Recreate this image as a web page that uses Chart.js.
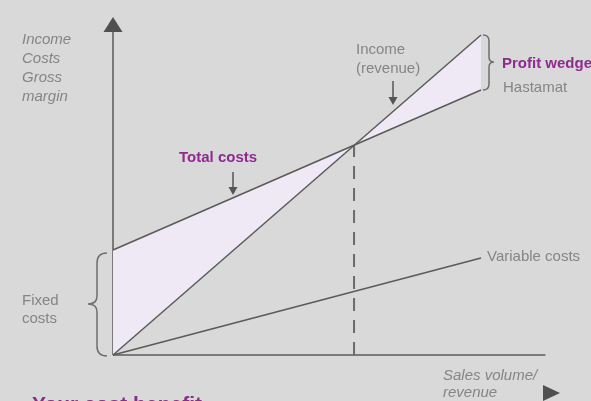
<!DOCTYPE html>
<html>
<head>
<meta charset="utf-8">
<script src="https://cdn.jsdelivr.net/npm/chart.js@4/dist/chart.umd.min.js"></script>
<style>
  html, body { margin: 0; padding: 0; background: #d9d9d9; overflow: hidden; }
  canvas { display: block; }
</style>
</head>
<body>
<canvas id="c" width="591" height="401"></canvas>
<script>
// ---- Data ----
const volume        = [0, 10];        // sales volume (x)
const income        = [0, 100];       // income (revenue)
const totalCosts    = [32.8, 82.8];   // total costs
const variableCosts = [0, 30.3];      // variable costs
const breakEvenVolume = 6.55;
const breakEvenValue  = 65.5;
const xAxisEnd = 11.75;
const yAxisEnd = 101.5;

const LINE = '#5a5a5a';
const AXIS = '#7a7a7a';
const FILL = '#efe9f5';
const GREY_TEXT = '#858585';
const PURPLE = '#8e2b8e';
const FONT = '"Liberation Sans", Arial, Helvetica, sans-serif';

const pts = (ys) => volume.map((v, i) => ({ x: v, y: ys[i] }));

const annotations = {
  id: 'annotations',
  afterDraw(chart) {
    const ctx = chart.ctx;
    const xs = chart.scales.x;
    const X = v => xs.getPixelForValue(v);
    ctx.save();

    // axis arrowheads
    ctx.fillStyle = '#505050';
    const ox = X(0);
    ctx.beginPath();
    ctx.moveTo(ox, 17); ctx.lineTo(ox - 9.5, 32); ctx.lineTo(ox + 9.5, 32); ctx.closePath(); ctx.fill();
    ctx.beginPath();
    ctx.moveTo(560, 393); ctx.lineTo(543, 385); ctx.lineTo(543, 401); ctx.closePath(); ctx.fill();

    // small down arrows
    function downArrow(x, y1, y2) {
      ctx.strokeStyle = '#555'; ctx.lineWidth = 1.5;
      ctx.beginPath(); ctx.moveTo(x, y1); ctx.lineTo(x, y2 - 6); ctx.stroke();
      ctx.fillStyle = '#555';
      ctx.beginPath(); ctx.moveTo(x, y2); ctx.lineTo(x - 4.5, y2 - 8); ctx.lineTo(x + 4.5, y2 - 8); ctx.closePath(); ctx.fill();
    }
    downArrow(393, 81, 105);
    downArrow(233, 172, 195);

    // braces
    ctx.strokeStyle = '#6e6e6e'; ctx.lineWidth = 1.5;
    // left brace (fixed costs)
    (function () {
      const top = 253, bot = 356, mid = 304, xr = 107, xm = 97, xp = 88;
      ctx.beginPath();
      ctx.moveTo(xr, top);
      ctx.quadraticCurveTo(xm, top, xm, top + 10);
      ctx.lineTo(xm, mid - 8);
      ctx.quadraticCurveTo(xm, mid, xp, mid);
      ctx.quadraticCurveTo(xm, mid, xm, mid + 8);
      ctx.lineTo(xm, bot - 10);
      ctx.quadraticCurveTo(xm, bot, xr, bot);
      ctx.stroke();
    })();
    // right brace (profit wedge)
    (function () {
      const top = 35, bot = 90, mid = 62, xl = 483, xm = 489, xp = 494;
      ctx.beginPath();
      ctx.moveTo(xl, top);
      ctx.quadraticCurveTo(xm, top, xm, top + 6);
      ctx.lineTo(xm, mid - 5);
      ctx.quadraticCurveTo(xm, mid, xp, mid);
      ctx.quadraticCurveTo(xm, mid, xm, mid + 5);
      ctx.lineTo(xm, bot - 6);
      ctx.quadraticCurveTo(xm, bot, xl, bot);
      ctx.stroke();
    })();

    // texts
    ctx.textAlign = 'left'; ctx.textBaseline = 'alphabetic';
    ctx.fillStyle = GREY_TEXT;
    ctx.font = 'italic 15px ' + FONT;
    ['Income', 'Costs', 'Gross', 'margin'].forEach((t, i) => ctx.fillText(t, 22, 44 + i * 19));
    ctx.fillText('Sales volume/', 443, 380);
    ctx.fillText('revenue', 443, 397);

    ctx.font = '15px ' + FONT;
    ctx.fillText('Income', 356, 54);
    ctx.fillText('(revenue)', 356, 73);
    ctx.fillText('Hastamat', 503, 92);
    ctx.fillText('Variable costs', 487, 261);
    ctx.fillText('Fixed', 22, 305);
    ctx.fillText('costs', 22, 323);

    ctx.fillStyle = PURPLE;
    ctx.font = 'bold 15px ' + FONT;
    ctx.fillText('Profit wedge', 502, 68);
    ctx.fillText('Total costs', 179, 162);
    ctx.font = 'bold 21px ' + FONT;
    ctx.fillText('Your cost benefit', 32, 411);

    ctx.restore();
  }
};

new Chart(document.getElementById('c'), {
  type: 'line',
  data: {
    datasets: [
      { label: 'Income', data: pts(income), borderColor: LINE, borderWidth: 1.5, fill: false },
      { label: 'Total costs', data: pts(totalCosts), borderColor: LINE, borderWidth: 1.5,
        fill: { target: 0, above: FILL, below: FILL } },
      { label: 'Variable costs', data: pts(variableCosts), borderColor: LINE, borderWidth: 1.5, fill: false },
      { label: 'Break-even', data: [{ x: breakEvenVolume, y: 0 }, { x: breakEvenVolume, y: breakEvenValue }],
        borderColor: '#6b6b6b', borderWidth: 2, borderDash: [13, 9], fill: false },
      { label: 'x axis', data: [{ x: 0, y: 0 }, { x: xAxisEnd, y: 0 }], borderColor: AXIS, borderWidth: 2, fill: false },
      { label: 'y axis', data: [{ x: 0, y: 0 }, { x: 0, y: yAxisEnd }], borderColor: AXIS, borderWidth: 2, fill: false }
    ]
  },
  options: {
    responsive: false,
    animation: false,
    events: [],
    layout: { padding: { left: 113, right: 36.4, top: 19, bottom: 46 } },
    elements: { point: { radius: 0 }, line: { tension: 0 } },
    datasets: { line: { clip: false } },
    scales: {
      x: { type: 'linear', min: 0, max: 12, display: false },
      y: { type: 'linear', min: 0, max: 105, display: false }
    },
    plugins: { legend: { display: false }, tooltip: { enabled: false } }
  },
  plugins: [annotations]
});
</script>
</body>
</html>
